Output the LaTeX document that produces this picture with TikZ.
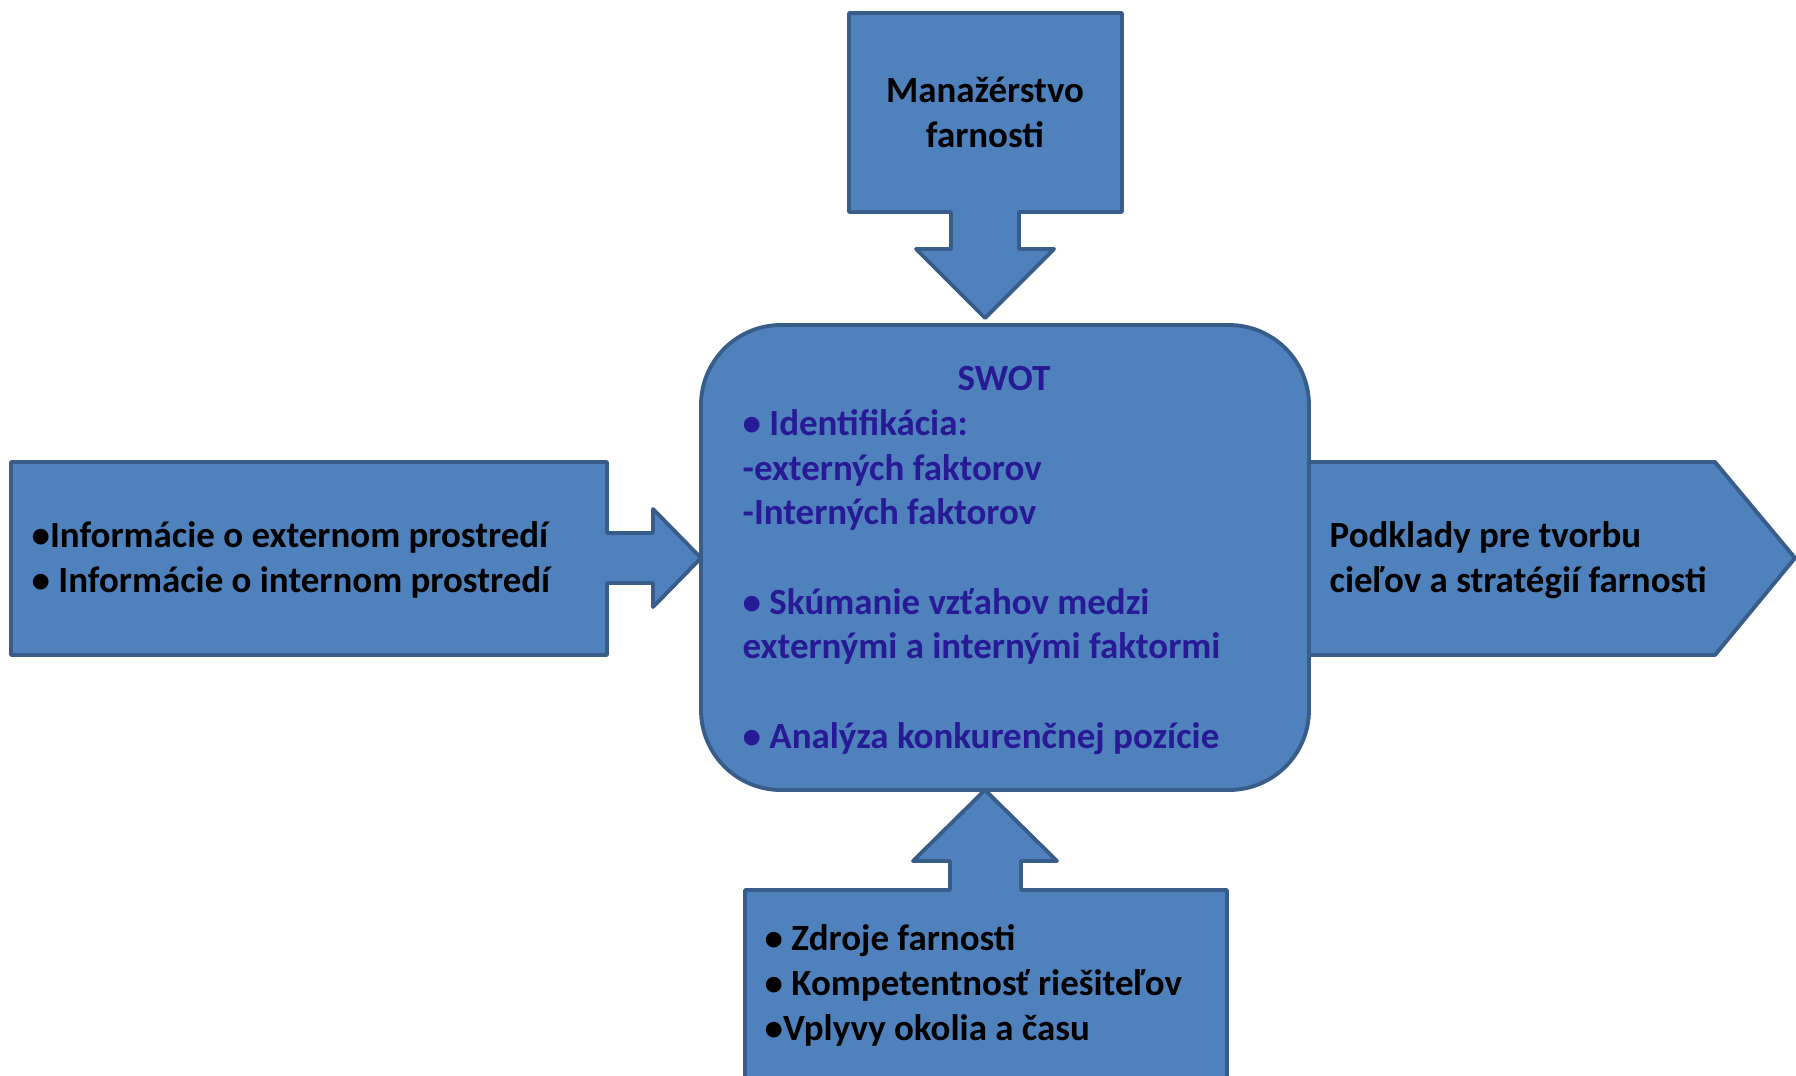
\documentclass[tikz,border=0pt]{standalone}
\usepackage{fontspec}
\setmainfont{Carlito}
\definecolor{boxblue}{RGB}{79,129,189}
\definecolor{boxline}{RGB}{56,93,138}
\definecolor{swotink}{RGB}{40,25,150}
\tikzset{
  shp/.style={fill=boxblue, draw=boxline, line width=1.1pt, line join=round},
  txt/.style={font=\fontsize{10.5}{12.7}\selectfont\bfseries, inner sep=0pt, align=left, anchor=base west},
}
\begin{document}
\begin{tikzpicture}[x=0.01cm, y=-0.01cm]
\useasboundingbox (0,0) rectangle (1796,1075);
\clip (0,0) rectangle (1796,1075);
% shapes
\draw[shp] (849,13) -- (1122,13) -- (1122,212) -- (1019,212) -- (1019,249) -- (1054,249) -- (985,318) -- (916,249) -- (951,249) -- (951,212) -- (849,212) -- cycle;
\draw[shp] (11,462) -- (607,462) -- (607,533) -- (653,533) -- (653,509) -- (701,558) -- (653,607) -- (653,583) -- (607,583) -- (607,655) -- (11,655) -- cycle;
\draw[shp] (1309,462) -- (1715,462) -- (1795,558) -- (1715,655) -- (1309,655) -- cycle;
\draw[shp] (985,790) -- (1057,861) -- (1021,861) -- (1021,890) -- (1227,890) -- (1227,1100) -- (745,1100) -- (745,890) -- (950,890) -- (950,861) -- (913,861) -- cycle;
\draw[shp, rounded corners=0.8cm] (701,325) rectangle (1309,790);
% texts (anchored at the baseline of the last line)
\node[txt, align=center, anchor=base] (mng) at (985,147) {Manažérstvo\\farnosti};
\node[txt, anchor=base] (swot) at (1004,390) {\color{swotink}SWOT};
\node[txt, text=swotink] (ident) at (742,748) {• Identifikácia:\\-externých faktorov\\-Interných faktorov\\[12.7pt]• Skúmanie vzťahov medzi\\externými a internými faktormi\\[12.7pt]• Analýza konkurenčnej pozície};
\node[txt] (info) at (31,592) {•Informácie o externom prostredí\\• Informácie o internom prostredí};
\node[txt] (podk) at (1329,592) {Podklady pre tvorbu\\cieľov a stratégií farnosti};
\node[txt] (zdroj) at (764,1040) {• Zdroje farnosti\\• Kompetentnosť riešiteľov\\•Vplyvy okolia a času};
\end{tikzpicture}
\end{document}
